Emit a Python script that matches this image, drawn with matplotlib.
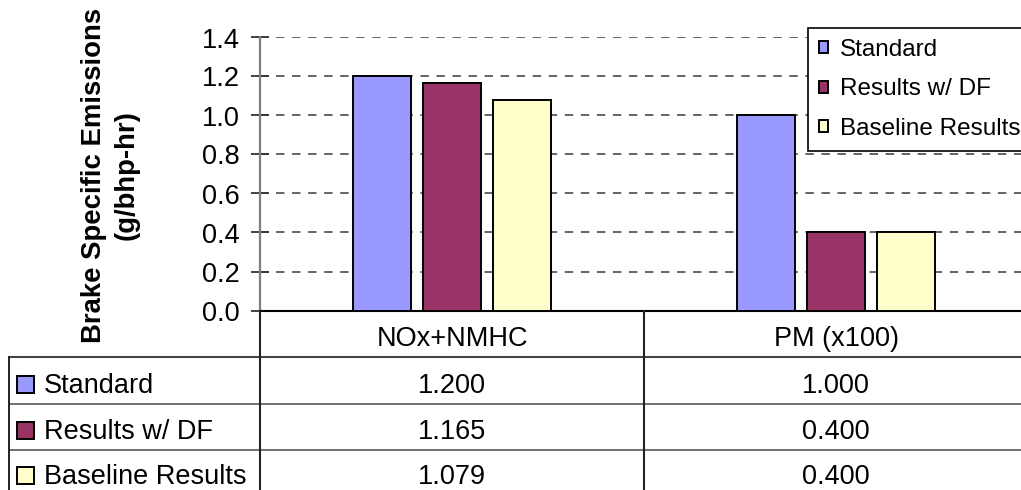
import matplotlib
matplotlib.use('Agg')
import matplotlib.pyplot as plt
import numpy as np

# ---------------- data ----------------
categories = ["NOx+NMHC", "PM (x100)"]
series_names = ["Standard", "Results w/ DF", "Baseline Results"]
standard = [1.200, 1.000]
results_df = [1.165, 0.400]
baseline = [1.079, 0.400]
series_values = [standard, results_df, baseline]
series_colors = ["#9999FF", "#993366", "#FFFFCC"]
yticks = [0.0, 0.2, 0.4, 0.6, 0.8, 1.0, 1.2, 1.4]
ylabel = "Brake Specific Emissions\n(g/bhp-hr)"

plt.rcParams['font.family'] = ['Liberation Sans', 'DejaVu Sans']

W, H = 1021, 490
fig = plt.figure(figsize=(W / 100, H / 100), dpi=100)

# plot area geometry in pixels (from top-left)
ax_left, ax_right, ax_top, ax_bot = 260, 1028, 37.5, 310.5
ax = fig.add_axes([ax_left / W, 1 - ax_bot / H,
                   (ax_right - ax_left) / W, (ax_bot - ax_top) / H])

x = np.arange(len(categories))
offsets = [-0.182, 0.0, 0.182]
bw = 0.151
bars = []
for vals, name, col, off in zip(series_values, series_names, series_colors, offsets):
    b = ax.bar(x + off, vals, bw, color=col, edgecolor='black', linewidth=1.4,
               label=name, zorder=3)
    bars.append(b)

ax.set_xlim(-0.5, len(categories) - 0.5)
ax.set_ylim(0, 1.4)
ax.set_yticks(yticks)
ax.set_yticklabels([f"{v:.1f}" for v in yticks])
ax.set_xticks([])
ax.yaxis.grid(True, color='#3a3a3a', linestyle=(0, (5.5, 5.0)), linewidth=1.1, zorder=0)
ax.set_axisbelow(True)
ax.tick_params(axis='y', direction='inout', length=13, width=1.3, color='#333333',
               labelsize=19.5, pad=8)
for s in ['top', 'right']:
    ax.spines[s].set_visible(False)
ax.spines['left'].set_color('#808080')
ax.spines['left'].set_linewidth(1.6)
ax.spines['bottom'].set_color('black')
ax.spines['bottom'].set_linewidth(1.5)

fig.text(110 / W, 1 - 175 / H, ylabel, rotation=90, ha='center', va='center',
         multialignment='center', fontsize=19.8, fontweight='bold', linespacing=1.33)

leg = ax.legend(handles=bars, loc='upper left',
                bbox_to_anchor=(808 / W, 1 - 28 / H), bbox_transform=fig.transFigure,
                fontsize=17.5, frameon=True, fancybox=False, framealpha=1,
                edgecolor='black', handlelength=0.38, handleheight=0.38,
                handletextpad=0.5, labelspacing=0.72, borderpad=0.45,
                borderaxespad=0)
leg.get_frame().set_linewidth(1.2)

# ---------------- data table below the chart ----------------
tab = fig.add_axes([0, 0, 1, 1])
tab.set_xlim(0, W)
tab.set_ylim(H, 0)
tab.axis('off')
tab.patch.set_visible(False)

xl0, xl1 = ax.get_xlim()
def col_px(v):
    return ax_left + (v - xl0) / (xl1 - xl0) * (ax_right - ax_left)

col_edges = [col_px(v) for v in np.arange(len(categories) + 1) - 0.5]
col_centers = [col_px(v) for v in x]
row_lines = [357, 404, 450, 497]
table_left = 9

# lines
tab.plot([table_left, W], [row_lines[0]] * 2, color='#444444', lw=1.5)
for yy in row_lines[1:3]:
    tab.plot([table_left, W], [yy] * 2, color='#666666', lw=1.3)
tab.plot([table_left, table_left], [row_lines[0], H], color='#222222', lw=1.4)
for xe in col_edges[:-1]:
    tab.plot([xe, xe], [ax_bot, H], color='#222222', lw=1.5)

# header
for cx, cat in zip(col_centers, categories):
    tab.text(cx, 346, cat, ha='center', va='baseline', fontsize=19.5)

# rows
baselines = [393, 439, 484]
for name, col, vals, bl in zip(series_names, series_colors, series_values, baselines):
    tab.add_patch(plt.Rectangle((17, bl - 17), 17, 17, facecolor=col,
                                edgecolor='black', lw=1.4))
    tab.text(44, bl, name, ha='left', va='baseline', fontsize=19.5)
    for cx, v in zip(col_centers, vals):
        tab.text(cx, bl, f"{v:.3f}", ha='center', va='baseline', fontsize=19.5)

fig.savefig('out.png', dpi=100)
